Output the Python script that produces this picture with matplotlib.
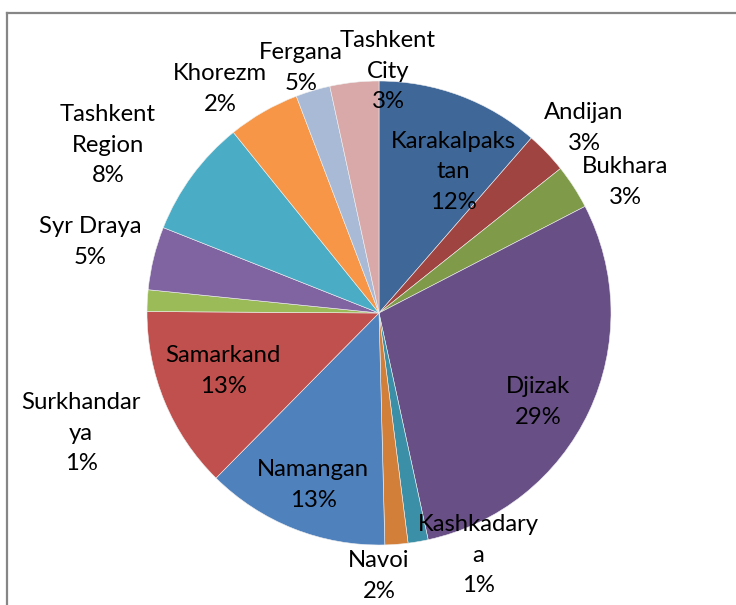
import matplotlib
matplotlib.use("Agg")
import matplotlib.pyplot as plt
from matplotlib.lines import Line2D

# ---- data ----
regions = ["Karakalpakstan", "Andijan", "Bukhara", "Djizak", "Kashkadarya", "Navoi",
           "Namangan", "Samarkand", "Surkhandarya", "Syr Draya", "Tashkent Region",
           "Khorezm", "Fergana", "Tashkent City"]
shares = [11.4, 2.9, 3.1, 29.2, 1.4, 1.6, 12.8, 12.7, 1.5, 4.4, 8.2, 5.0, 2.4, 3.4]
label_texts = ["Karakalpaks\ntan\n12%", "Andijan\n3%", "Bukhara\n3%", "Djizak\n29%",
               "Kashkadary\na\n1%", "Navoi\n2%", "Namangan\n13%", "Samarkand\n13%",
               "Surkhandar\nya\n1%", "Syr Draya\n5%", "Tashkent\nRegion\n8%",
               "Khorezm\n2%", "Fergana\n5%", "Tashkent\nCity\n3%"]

# ---- styling / layout ----
colors = ["#3F6797", "#A04442", "#7F9A48", "#684F86", "#3B8FA6", "#D27F3A",
          "#4F81BD", "#C0504D", "#9BBB59", "#8064A2", "#4BACC6", "#F79646",
          "#A9BAD7", "#D8A9A8"]
# label block centres in image pixels (x, y from top)
label_pos = [(453, 172), (584, 128), (625, 182), (538, 402), (478, 555), (379, 576),
             (313, 485), (223, 371), (81, 433), (90, 242), (108, 145), (220, 89),
             (301, 68), (388, 71)]

W, H = 736, 605
fig = plt.figure(figsize=(W / 100, H / 100), dpi=100)
ax = fig.add_axes([0, 0, 1, 1])

cx, cy, r = 379, H - 313, 232
ax.pie(shares, colors=colors, startangle=90, counterclock=False,
       center=(cx, cy), radius=r, frame=True,
       wedgeprops=dict(linewidth=0.4, edgecolor="#f0f0f0"))
ax.set_xlim(0, W)
ax.set_ylim(0, H)
ax.set_aspect("equal")
ax.axis("off")

for txt, (x, y) in zip(label_texts, label_pos):
    ax.text(x, H - y, txt, ha="center", va="center", multialignment="center",
            fontsize=17.2, family=["Lato", "DejaVu Sans"], color="#000000",
            linespacing=1.55)

# chart frame (only top and left edges are visible)
ax.add_line(Line2D([7, 7], [H - 13, 0], color="#868686", linewidth=1.6))
ax.add_line(Line2D([7, W], [H - 13, H - 13], color="#868686", linewidth=1.6))

fig.savefig("out.png", dpi=100)
